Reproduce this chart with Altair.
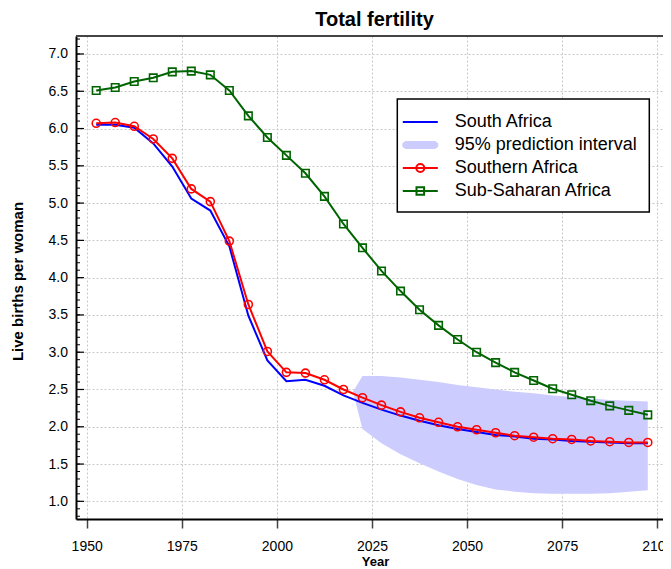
import altair as alt
import pandas as pd

FONT = "Liberation Sans"

# ---------------- data ----------------
years = [1952.5, 1957.5, 1962.5, 1967.5, 1972.5, 1977.5, 1982.5, 1987.5, 1992.5, 1997.5,
         2002.5, 2007.5, 2012.5, 2017.5, 2022.5, 2027.5, 2032.5, 2037.5, 2042.5, 2047.5,
         2052.5, 2057.5, 2062.5, 2067.5, 2072.5, 2077.5, 2082.5, 2087.5, 2092.5, 2097.5]

south_africa = [6.05, 6.05, 6.01, 5.80, 5.49, 5.06, 4.90, 4.42, 3.49, 2.89,
                2.61, 2.63, 2.55, 2.42, 2.32, 2.23, 2.15, 2.08, 2.02, 1.97,
                1.93, 1.89, 1.87, 1.84, 1.83, 1.81, 1.80, 1.79, 1.78, 1.78]

southern_africa = [6.07, 6.08, 6.03, 5.86, 5.60, 5.19, 5.02, 4.49, 3.64, 3.01,
                   2.73, 2.72, 2.63, 2.50, 2.39, 2.29, 2.20, 2.12, 2.06, 2.00,
                   1.96, 1.92, 1.88, 1.86, 1.84, 1.83, 1.81, 1.80, 1.79, 1.79]

sub_saharan = [6.51, 6.55, 6.63, 6.68, 6.76, 6.77, 6.72, 6.51, 6.17, 5.88,
               5.64, 5.40, 5.09, 4.72, 4.40, 4.09, 3.82, 3.57, 3.36, 3.17,
               3.00, 2.86, 2.73, 2.62, 2.51, 2.43, 2.35, 2.28, 2.22, 2.16]

band_years = [2020.0, 2022.5, 2027.5, 2032.5, 2037.5, 2042.5, 2047.5, 2052.5, 2057.5,
              2062.5, 2067.5, 2072.5, 2077.5, 2082.5, 2087.5, 2092.5, 2097.5]
band_lower = [2.47, 1.97, 1.78, 1.63, 1.51, 1.40, 1.30, 1.22, 1.16,
              1.13, 1.11, 1.10, 1.10, 1.10, 1.11, 1.13, 1.15]
band_upper = [2.47, 2.68, 2.68, 2.66, 2.63, 2.60, 2.56, 2.53, 2.50,
              2.47, 2.45, 2.42, 2.40, 2.38, 2.36, 2.35, 2.34]

series_names = ["South Africa", "95% prediction interval", "Southern Africa", "Sub-Saharan Africa"]
series_colors = ["#0000ff", "#ccccff", "#ff0000", "#006400"]

x_ticks = [1950, 1975, 2000, 2025, 2050, 2075, 2100]
y_major = [1.0, 1.5, 2.0, 2.5, 3.0, 3.5, 4.0, 4.5, 5.0, 5.5, 6.0, 6.5, 7.0]
y_minor = [round(0.8 + 0.1 * i, 1) for i in range(65)]

# legend symbols (custom paths, unit = half the symbol slot)
legend_paths = [
    "M-1.75 0H1.75",
    "M-1.55 -0.3H1.55M-1.7 -0.2H1.7M-1.78 -0.1H1.78M-1.8 0H1.8M-1.78 0.1H1.78M-1.7 0.2H1.7M-1.55 0.3H1.55",
    "M-1.75 0H1.75M0.4 0A0.4 0.4 0 1 1 -0.4 0A0.4 0.4 0 1 1 0.4 0",
    "M-1.75 0H1.75M-0.38 -0.38H0.38V0.38H-0.38Z",
]

# ---------------- tables ----------------
sa_df = pd.DataFrame({"Year": years, "value": south_africa})
southern_df = pd.DataFrame({"Year": years, "value": southern_africa})
ssa_df = pd.DataFrame({"Year": years, "value": sub_saharan})
band_df = pd.DataFrame({"Year": band_years, "lower": band_lower, "upper": band_upper})
minor_df = pd.DataFrame({"tick": y_minor})
major_df = pd.DataFrame({"tick": y_major})
legend_df = pd.DataFrame({"series": series_names})

# ---------------- scales / axes ----------------
W, H = 587, 483
xscale = alt.Scale(domain=[1947.19, 2101.5], nice=False, zero=False)
yscale = alt.Scale(domain=[0.763, 7.241], nice=False, zero=False)

xaxis = alt.Axis(values=x_ticks, format="d", labelFontSize=14, labelFont=FONT,
                 labelColor="black", labelFlush=False, labelPadding=11.5,
                 tickSize=9, tickWidth=1.5, tickColor="#444444",
                 domainColor="black", domainWidth=2,
                 grid=True, gridColor="#c8c8c8", gridDash=[2, 2], gridWidth=1,
                 title="Year", titleFont=FONT, titleFontSize=13, titleFontWeight="bold",
                 titleColor="black", titleY=46.5, titleBaseline="alphabetic", titleX=299)
yaxis = alt.Axis(values=y_major, format=".1f", labelFontSize=14, labelFont=FONT,
                 labelColor="black", labelPadding=8.5, ticks=False, tickSize=0,
                 domainColor="black", domainWidth=2,
                 grid=True, gridColor="#c8c8c8", gridDash=[2, 2], gridWidth=1,
                 title="Live births per woman", titleFont=FONT, titleFontSize=15,
                 titleFontWeight="bold", titleColor="black",
                 titleX=-51, titleY=245, titleAlign="center", titleAngle=270)


def X(field):
    return alt.X(f"{field}:Q", scale=xscale, axis=xaxis, title="Year")


def Y(field):
    return alt.Y(f"{field}:Q", scale=yscale, axis=yaxis, title="Live births per woman")


color_scale = alt.Scale(domain=series_names, range=series_colors)
legend = alt.Legend(orient="none", legendX=321.3, legendY=63, title=None,
                    labelFontSize=18, labelFont=FONT, labelColor="black",
                    labelOffset=23.4, symbolSize=400, symbolStrokeWidth=2,
                    rowPadding=3, padding=12, labelLimit=400)

# ---------------- layers ----------------
band = alt.Chart(band_df).mark_area(color="#ccccff", opacity=1).encode(
    x=X("Year"), y=Y("lower"), y2="upper:Q")

blue_line = alt.Chart(sa_df).mark_line(strokeWidth=2, color="#0000ff").encode(
    x=X("Year"), y=Y("value"))
red_line = alt.Chart(southern_df).mark_line(strokeWidth=2, color="#ff0000").encode(
    x=X("Year"), y=Y("value"))
green_line = alt.Chart(ssa_df).mark_line(strokeWidth=2, color="#006400").encode(
    x=X("Year"), y=Y("value"))

red_pts = alt.Chart(southern_df).mark_point(
    shape="circle", filled=False, size=64, strokeWidth=1.6, color="#ff0000", opacity=1
).encode(x=X("Year"), y=Y("value"))

green_pts = alt.Chart(ssa_df).mark_point(
    shape="square", filled=False, size=56, strokeWidth=1.6, color="#006400", opacity=1
).encode(x=X("Year"), y=Y("value"))

legend_layer = alt.Chart(legend_df).transform_filter("false").mark_point(
    filled=False, opacity=1).encode(
    color=alt.Color("series:N", scale=color_scale, legend=legend, sort=series_names),
    shape=alt.Shape("series:N", scale=alt.Scale(domain=series_names, range=legend_paths),
                    legend=legend, sort=series_names))

minor_ticks = alt.Chart(minor_df).mark_rule(color="black", strokeWidth=1).encode(
    y=Y("tick"), x=alt.value(0), x2=alt.value(4))
major_ticks = alt.Chart(major_df).mark_rule(color="black", strokeWidth=1.2).encode(
    y=Y("tick"), x=alt.value(0), x2=alt.value(8))

top_border = alt.Chart(major_df.head(1)).mark_rule(color="#444444", strokeWidth=2).encode(
    x=alt.value(0), x2=alt.value(W), y=alt.value(0))

chart = alt.layer(band, blue_line, red_line, green_line, red_pts, green_pts,
                  minor_ticks, major_ticks, top_border, legend_layer).properties(
    width=W, height=H,
    title=alt.TitleParams("Total fertility", font=FONT, fontSize=20, fontWeight="bold",
                          color="black", anchor="middle", frame="group", offset=10,
                          dx=5, dy=21, baseline="alphabetic"),
    padding={"left": 68, "top": 28, "right": 0, "bottom": 50},
    autosize=alt.AutoSizeParams(type="none"),
).configure_view(stroke=None).configure_legend(
    strokeColor="black", strokeWidth=1.5, fillColor="white", cornerRadius=0)

chart.save("out.html", embed_options={"renderer": "svg", "actions": False})
